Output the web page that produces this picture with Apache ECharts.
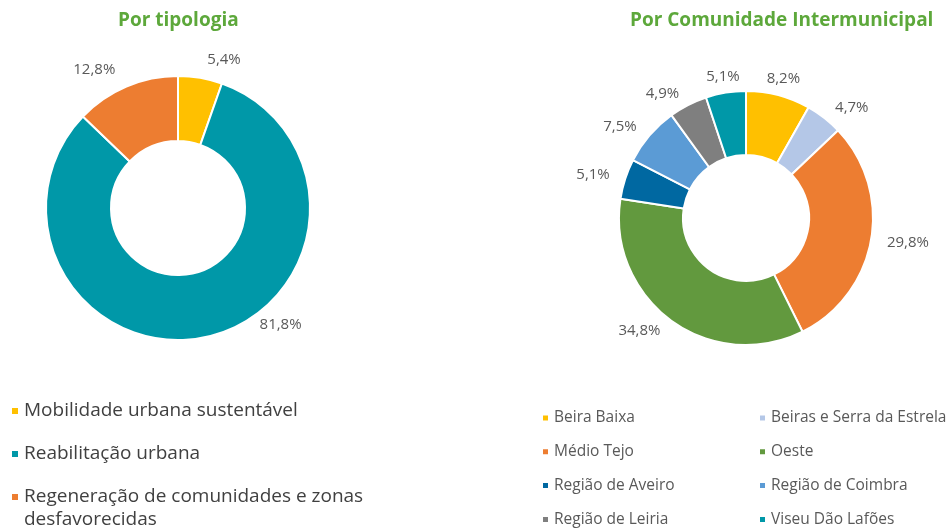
<!DOCTYPE html>
<html>
<head>
<meta charset="utf-8">
<script src="https://cdn.jsdelivr.net/npm/echarts@6/dist/echarts.min.js"></script>
<style>
  html, body { margin: 0; padding: 0; background: #ffffff; }
  #chart { width: 952px; height: 531px; }
</style>
</head>
<body>
<div id="chart"></div>
<script>
// Distribuição por tipologia de intervenção (%)
const typologyNames = [
  'Mobilidade urbana sustentável',
  'Reabilitação urbana',
  'Regeneração de comunidades e zonas desfavorecidas'
];
const typologyValues = [5.4, 81.8, 12.8];

// Distribuição por Comunidade Intermunicipal (%)
const regionNames = [
  'Beira Baixa',
  'Beiras e Serra da Estrela',
  'Médio Tejo',
  'Oeste',
  'Região de Aveiro',
  'Região de Coimbra',
  'Região de Leiria',
  'Viseu Dão Lafões'
];
const regionValues = [8.2, 4.7, 29.8, 34.8, 5.1, 7.5, 4.9, 5.1];

// Palette
const typologyColors = ['#FFC000', '#0098A8', '#ED7D31'];
const regionColors = ['#FFC000', '#B4C7E7', '#ED7D31', '#62993E', '#0068A1', '#5B9BD5', '#7F7F7F', '#0098A8'];

const FONT = '"Open Sans", "DejaVu Sans", sans-serif';
const pct = v => v.toFixed(1).replace('.', ',') + '%';

const chart = echarts.init(document.getElementById('chart'), null, { renderer: 'canvas' });

const pieCommon = {
  type: 'pie',
  startAngle: 90,
  clockwise: true,
  avoidLabelOverlap: false,
  emphasis: { disabled: true },
  itemStyle: { borderColor: '#ffffff', borderWidth: 2 },
  label: {
    show: true,
    position: 'outside',
    formatter: p => pct(p.value),
    fontFamily: FONT,
    fontSize: 15,
    color: '#595959'
  }
};

const legendCommon = {
  orient: 'vertical',
  icon: 'rect',
  padding: 0,
  selectedMode: false
};

// labels of slices near 12 o'clock are centred over the slice; the largest slice's label sits beside it
const typologyLabelShift = { 1: { dx: 43, dy: -29 } };
const regionLabelShift = { 0: { dx: -18, dy: -4 }, 7: { dx: 19, dy: -3 } };

chart.setOption({
  animation: false,
  title: [
    {
      text: 'Por tipologia',
      left: 118, top: 11, padding: 0,
      textStyle: { fontFamily: FONT, fontSize: 19, fontWeight: 'bold', color: '#5DA83B' }
    },
    {
      text: 'Por Comunidade Intermunicipal',
      left: 630, top: 11, padding: 0,
      textStyle: { fontFamily: FONT, fontSize: 19, fontWeight: 'bold', color: '#5DA83B' }
    }
  ],
  legend: [
    Object.assign({}, legendCommon, {
      data: typologyNames.slice(0, 2),
      left: 10, top: 399.5,
      itemWidth: 8, itemHeight: 8, itemGap: 20,
      textStyle: { fontFamily: FONT, fontSize: 19, lineHeight: 23, color: '#404040' }
    }),
    Object.assign({}, legendCommon, {
      data: typologyNames.slice(2),
      left: 10, top: 462.5,
      itemWidth: 8, itemHeight: 8,
      // wrapped over two lines; a blank first line keeps the marker level with the first text line
      formatter: name => '\n' + name.replace(' zonas ', ' zonas\n'),
      textStyle: { fontFamily: FONT, fontSize: 19, lineHeight: 23, color: '#404040' }
    }),
    Object.assign({}, legendCommon, {
      data: regionNames.filter((_, i) => i % 2 === 0),
      left: 541, top: 409.5,
      itemWidth: 7, itemHeight: 7, itemGap: 16.8,
      textStyle: { fontFamily: FONT, fontSize: 15.5, lineHeight: 17, color: '#595959' }
    }),
    Object.assign({}, legendCommon, {
      data: regionNames.filter((_, i) => i % 2 === 1),
      left: 758, top: 409.5,
      itemWidth: 7, itemHeight: 7, itemGap: 16.8,
      textStyle: { fontFamily: FONT, fontSize: 15.5, lineHeight: 17, color: '#595959' }
    })
  ],
  series: [
    Object.assign({}, pieCommon, {
      name: 'Por tipologia',
      center: [178, 208],
      radius: [67, 132],
      label: Object.assign({}, pieCommon.label, { distanceToLabelLine: 4 }),
      labelLine: { show: false, length: 18, length2: 0 },
      labelLayout: p => typologyLabelShift[p.dataIndex] || {},
      data: typologyNames.map((n, i) => ({ name: n, value: typologyValues[i], itemStyle: { color: typologyColors[i] } }))
    }),
    Object.assign({}, pieCommon, {
      name: 'Por Comunidade Intermunicipal',
      center: [746, 218],
      radius: [63, 127],
      label: Object.assign({}, pieCommon.label, { distanceToLabelLine: 3 }),
      labelLine: { show: false, length: 13, length2: 0 },
      labelLayout: p => regionLabelShift[p.dataIndex] || {},
      data: regionNames.map((n, i) => ({ name: n, value: regionValues[i], itemStyle: { color: regionColors[i] } }))
    })
  ]
});
</script>
</body>
</html>
